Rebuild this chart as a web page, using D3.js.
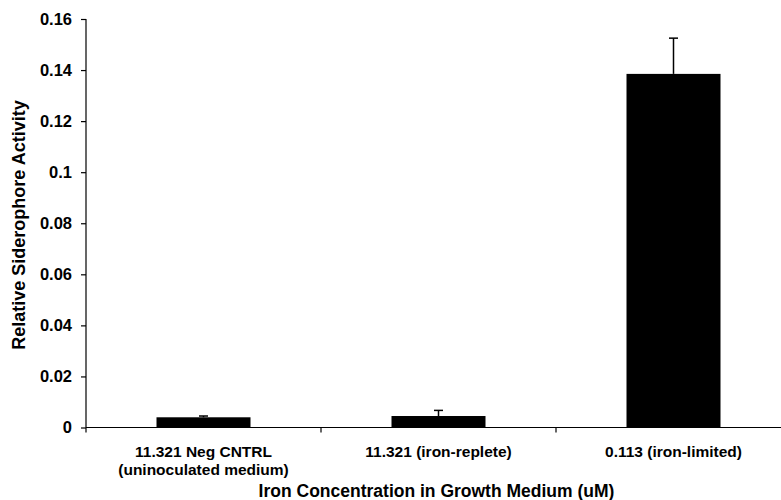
<!DOCTYPE html>
<html><head><meta charset="utf-8">
<script src="https://cdn.jsdelivr.net/npm/d3@7"></script>
<style>body{margin:0;background:#fff}svg{display:block}text{font-family:"Liberation Sans",Arial,sans-serif;font-weight:bold;fill:#000}</style>
</head><body>
<script>
const categories = [["11.321 Neg CNTRL","(uninoculated medium)"],["11.321 (iron-replete)"],["0.113 (iron-limited)"]];
const values = [0.0040, 0.0045, 0.1385];
const errors = [0.0005, 0.0022, 0.0140];
const yTicks = [0,0.02,0.04,0.06,0.08,0.1,0.12,0.14,0.16];
const yTitle = "Relative Siderophore Activity";
const xTitle = "Iron Concentration in Growth Medium (uM)";

const W=781,H=500;
const svg=d3.select("body").append("svg").attr("width",W).attr("height",H);
const x0=86, yBase=427.5, yTop=19, band=235;
const x=d3.scaleBand().domain(d3.range(categories.length)).range([x0,x0+band*categories.length]).paddingInner(0).paddingOuter(0);
const y=d3.scaleLinear().domain([0,0.16]).range([yBase,yTop]);

// bars
svg.selectAll("rect.bar").data(values).enter().append("rect")
 .attr("x",(d,i)=>x(i)+x.bandwidth()*0.3).attr("width",x.bandwidth()*0.4)
 .attr("y",d=>y(d)).attr("height",d=>yBase-y(d)).attr("fill","#000");
// error bars
const eg=svg.append("g").attr("stroke","#000").attr("stroke-width",1.5);
values.forEach((v,i)=>{
  const cx=x(i)+x.bandwidth()/2;
  eg.append("line").attr("x1",cx).attr("x2",cx).attr("y1",y(v)).attr("y2",y(v+errors[i]));
  eg.append("line").attr("x1",cx-4.5).attr("x2",cx+4.5).attr("y1",y(v+errors[i])).attr("y2",y(v+errors[i]));
});

// y axis
const ya=svg.append("g").attr("transform",`translate(${x0},0)`)
 .call(d3.axisLeft(y).tickValues(yTicks).tickFormat(d=>d===0?"0":String(+d.toFixed(2))).tickSizeOuter(0).tickSize(5).tickPadding(9));
ya.select(".domain").attr("d",`M0,${yTop}V${yBase+5}`);
ya.selectAll("path,line").attr("stroke","#000").attr("stroke-width",1.2);
ya.selectAll("text").style("font-size","16.5px").attr("font-family",null);

// x axis
const xa=svg.append("g").attr("transform",`translate(0,${yBase})`);
xa.append("line").attr("x1",x0).attr("x2",x0+band*3).attr("stroke","#000").attr("stroke-width",1.2);
[1,2,3].forEach(k=>xa.append("line").attr("x1",x0+band*k).attr("x2",x0+band*k).attr("y1",0).attr("y2",5).attr("stroke","#000").attr("stroke-width",1.2));
categories.forEach((lines,i)=>{
  const t=xa.append("text").attr("text-anchor","middle").style("font-size","15.5px");
  lines.forEach((s,j)=>t.append("tspan").attr("x",x(i)+x.bandwidth()/2).attr("y",29+j*18).text(s));
});

svg.append("text").attr("x",436.5).attr("y",497).attr("text-anchor","middle").style("font-size","17.5px").text(xTitle);
svg.append("text").attr("transform",`translate(25,225) rotate(-90)`).attr("text-anchor","middle").style("font-size","18px").text(yTitle);
</script>
</body></html>
